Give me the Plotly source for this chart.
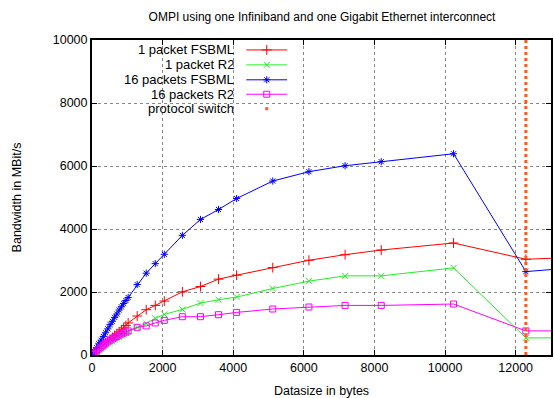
import plotly.graph_objects as go

# ---- data ----
datasize = [16, 32, 64, 128, 192, 256, 320, 384, 448, 512, 576, 640, 704, 768, 832, 896, 960, 1024,
            1280, 1536, 1792, 2048, 2560, 3072, 3584, 4096, 5120, 6144, 7168, 8192, 10240, 12288, 14336]

fsbml_1 = [15, 35, 70, 140, 200, 265, 325, 385, 440, 500, 560, 620, 680, 735, 800, 860, 935, 1017,
           1238, 1438, 1574, 1712, 2006, 2174, 2408, 2534, 2774, 3008, 3185, 3333, 3555, 3039, 3128]
r2_1 = [12, 25, 50, 100, 150, 200, 250, 300, 345, 390, 430, 480, 520, 570, 610, 650, 700, 740,
        870, 1000, 1163, 1289, 1447, 1649, 1754, 1839, 2111, 2344, 2512, 2512, 2765, 543, 548]
fsbml_16 = [30, 60, 120, 235, 355, 470, 590, 705, 830, 964, 1070, 1195, 1300, 1428, 1530, 1637, 1730, 1826,
            2237, 2597, 2900, 3197, 3798, 4303, 4619, 4967, 5523, 5820, 6009, 6136, 6389, 2648, 2830]
r2_16 = [15, 30, 60, 125, 190, 250, 310, 370, 420, 470, 510, 550, 590, 630, 670, 700, 730, 765,
         878, 923, 1017, 1100, 1216, 1216, 1280, 1352, 1460, 1523, 1574, 1574, 1618, 765, 765]

switch_x = [12288, 12288]
switch_y = [0, 10000]

series_names = ["1 packet FSBML", "1 packet R2", "16 packets FSBML", "16 packets R2"]
series_vals = [fsbml_1, r2_1, fsbml_16, r2_16]
series_colors = ["#ff0000", "#22ee22", "#0000ff", "#ff00ff"]
series_symbols = ["cross-thin-open", "x-thin-open", "asterisk-open", "square-open"]
series_sizes = [7, 6, 6, 6]
switch_name = "protocol switch"
switch_color = "#ff5a1e"

x_ticks = [0, 2000, 4000, 6000, 8000, 10000, 12000]
y_ticks = [0, 2000, 4000, 6000, 8000, 10000]

FONT = "Liberation Sans, Arial, sans-serif"

fig = go.Figure()

for name, vals, col, sym, sz in zip(series_names, series_vals, series_colors, series_symbols, series_sizes):
    fig.add_trace(go.Scatter(
        x=datasize, y=vals, mode="lines+markers", name=name,
        line=dict(color=col, width=1),
        marker=dict(symbol=sym, size=sz, color=col, line=dict(color=col, width=1)),
        showlegend=False, cliponaxis=True))

fig.add_trace(go.Scatter(
    x=switch_x, y=switch_y, mode="lines", name=switch_name,
    line=dict(color=switch_color, width=3, dash="dot"), showlegend=False))

# ---- gnuplot-style key (overlay axes in pixel units) ----
L, R, T, B = 92, 553, 40, 356.5
row_y = [50, 65, 80, 94.5, 109]
text_right = 237
samp_x0, samp_x1, samp_mid = 247, 288, 267.5

for i, (name, col, sym, sz) in enumerate(zip(series_names, series_colors, series_symbols, series_sizes)):
    fig.add_trace(go.Scatter(
        x=[samp_x0, samp_mid, samp_x1], y=[row_y[i]] * 3, mode="lines", xaxis="x2", yaxis="y2",
        line=dict(color=col, width=1), showlegend=False, hoverinfo="skip"))
    fig.add_trace(go.Scatter(
        x=[samp_mid], y=[row_y[i]], mode="markers", xaxis="x2", yaxis="y2",
        marker=dict(symbol=sym, size=sz, color=col, line=dict(color=col, width=1)),
        showlegend=False, hoverinfo="skip"))
    fig.add_annotation(x=text_right, y=row_y[i], xref="x2", yref="y2", text=name,
                       showarrow=False, xanchor="right", yanchor="middle",
                       font=dict(family=FONT, size=13, color="black"))

fig.add_trace(go.Scatter(
    x=[samp_mid], y=[row_y[4]], mode="markers", xaxis="x2", yaxis="y2",
    marker=dict(symbol="square", size=3, color=switch_color), showlegend=False, hoverinfo="skip"))
fig.add_annotation(x=text_right, y=row_y[4], xref="x2", yref="y2", text=switch_name,
                   showarrow=False, xanchor="right", yanchor="middle",
                   font=dict(family=FONT, size=13, color="black"))

# opaque key box hiding the grid
fig.add_shape(type="rect", xref="x2", yref="y2", x0=L + 1, x1=297, y0=T + 1, y1=117,
              fillcolor="white", line=dict(width=0), layer="below")

fig.update_layout(
    width=554, height=398,
    margin=dict(l=92, r=1, t=40, b=41.5),
    paper_bgcolor="white", plot_bgcolor="white",
    font=dict(family=FONT, size=12.5, color="black"),
    title=dict(text="OMPI using one Infiniband and one Gigabit Ethernet interconnect",
               x=322 / 554, xanchor="center", y=1 - 17 / 398, yanchor="middle",
               font=dict(family=FONT, size=12, color="black")),
    xaxis=dict(range=[0, 13000], tickvals=x_ticks, ticktext=[str(v) for v in x_ticks],
               showgrid=True, gridcolor="#888888", griddash="dot", gridwidth=1,
               zeroline=False, showline=True, linecolor="black", linewidth=2, mirror="ticks",
               ticks="inside", ticklen=5, tickcolor="black",
               title=dict(text="Datasize in bytes", standoff=13,
                          font=dict(family=FONT, size=12.5))),
    yaxis=dict(range=[0, 10000], tickvals=y_ticks, ticktext=[str(v) for v in y_ticks],
               showgrid=True, gridcolor="#888888", griddash="dot", gridwidth=1,
               zeroline=False, showline=True, linecolor="black", linewidth=2, mirror="ticks",
               ticks="inside", ticklen=5, tickcolor="black",
               title=dict(text="Bandwidth in MBit/s", standoff=28,
                          font=dict(family=FONT, size=12.5))),
    xaxis2=dict(overlaying="x", range=[L, R], visible=False, fixedrange=True),
    yaxis2=dict(overlaying="y", range=[B, T], visible=False, fixedrange=True),
    showlegend=False,
)

fig.write_html("out.html")
